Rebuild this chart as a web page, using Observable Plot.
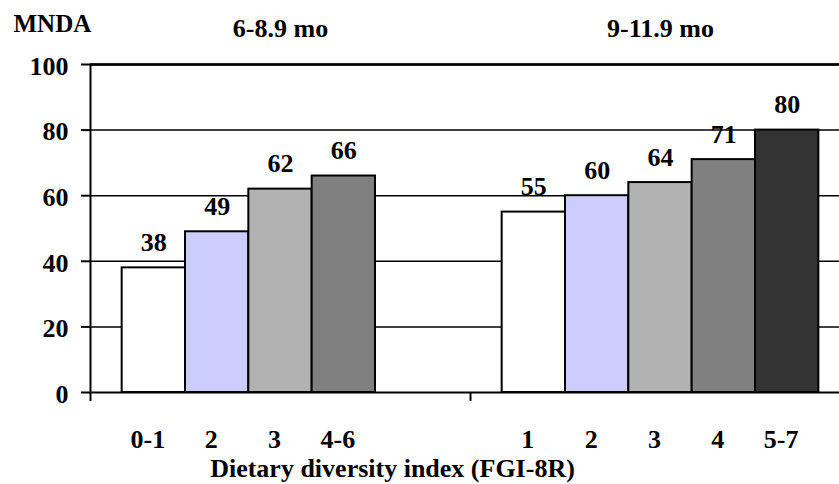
<!DOCTYPE html>
<html>
<head>
<meta charset="utf-8">
<script src="https://cdn.jsdelivr.net/npm/d3@7"></script>
<script src="https://cdn.jsdelivr.net/npm/@observablehq/plot@0.6"></script>
<style>
  html, body { margin: 0; padding: 0; background: #fff; overflow: hidden; }
  #chart svg { overflow: hidden; display: block; }
</style>
</head>
<body>
<div id="chart"></div>
<script>
// Mean nutrient density adequacy (MNDA) by dietary diversity, per age group
const ageGroups = ["6-8.9 mo", "9-11.9 mo"];
const levels6to9 = ["0-1", "2", "3", "4-6"];
const mnda6to9 = [38, 49, 62, 66];
const levels9to12 = ["1", "2", "3", "4", "5-7"];
const mnda9to12 = [55, 60, 64, 71, 80];
const yTicks = [0, 20, 40, 60, 80, 100];
const axisTitle = "Dietary diversity index (FGI-8R)";
const yTitle = "MNDA";

// fill for each diversity level slot within a group
const palette = ["#ffffff", "#ccccff", "#b2b2b2", "#808080", "#333333"];

// each age group spans 6 units on x: 5 bar slots plus half a slot of padding each side
const slotsPerGroup = 6;
const groups = [
  {age: ageGroups[0], levels: levels6to9, values: mnda6to9},
  {age: ageGroups[1], levels: levels9to12, values: mnda9to12}
];
const rows = groups.flatMap((g, gi) =>
  g.levels.map((level, i) => ({
    age: g.age,
    level,
    value: g.values[i],
    slot: i,
    pos: gi * slotsPerGroup + 1 + i
  }))
);
const groupCenters = groups.map((g, gi) => ({age: g.age, pos: gi * slotsPerGroup + slotsPerGroup / 2}));
const groupEdges = d3.range(groups.length + 1).map(i => i * slotsPerGroup);

const font = "Liberation Serif";
const textStyle = {fontSize: 26, fontFamily: font, fontWeight: "bold", fill: "black", lineAnchor: "middle"};

const chart = Plot.plot({
  width: 839,
  height: 484,
  marginLeft: 90,
  marginRight: -11,
  marginTop: 64,
  marginBottom: 92,
  style: {fontFamily: font, fontSize: "26px", fontWeight: "bold", color: "black", background: "white"},
  x: {domain: [0, groups.length * slotsPerGroup], axis: null},
  y: {domain: [0, 100], axis: null},
  color: {domain: d3.range(palette.length), range: palette},
  marks: [
    Plot.ruleY(yTicks.filter(t => t > 0 && t < 100), {stroke: "black", strokeWidth: 1.5}),
    Plot.rectY(rows, {
      x1: d => d.pos - 0.5,
      x2: d => d.pos + 0.5,
      y: "value",
      fill: "slot",
      stroke: "black",
      strokeWidth: 2
    }),
    Plot.frame({stroke: "black", strokeWidth: 2}),
    Plot.ruleY([100], {stroke: "black", strokeWidth: 2.6}),
    // y axis ticks and labels
    Plot.axisY({ticks: yTicks, tickSize: 9, tickFormat: () => "", label: null, stroke: "black", strokeWidth: 2}),
    Plot.text(yTicks, {...textStyle, y: d => d, frameAnchor: "left", textAnchor: "end", dx: -22, dy: 2}),
    // x ticks at the age-group boundaries
    Plot.axisX({ticks: groupEdges, tickSize: 9, tickFormat: () => "", label: null, stroke: "black", strokeWidth: 2}),
    // value labels above bars
    Plot.text(rows, {...textStyle, x: "pos", y: "value", text: d => String(d.value), dy: -25}),
    // diversity level labels under bars
    Plot.text(rows, {...textStyle, x: "pos", frameAnchor: "bottom", text: "level", dx: -6, dy: 47}),
    // age group headers
    Plot.text(groupCenters, {...textStyle, x: "pos", frameAnchor: "top", text: "age", dy: -36}),
    // y title
    Plot.text([yTitle], {...textStyle, fontSize: 25, frameAnchor: "top-left", textAnchor: "start", dx: -77, dy: -41}),
    // x title
    Plot.text([axisTitle], {...textStyle, frameAnchor: "bottom", dx: -78, dy: 76})
  ]
});

document.getElementById("chart").appendChild(chart);
</script>
</body>
</html>
